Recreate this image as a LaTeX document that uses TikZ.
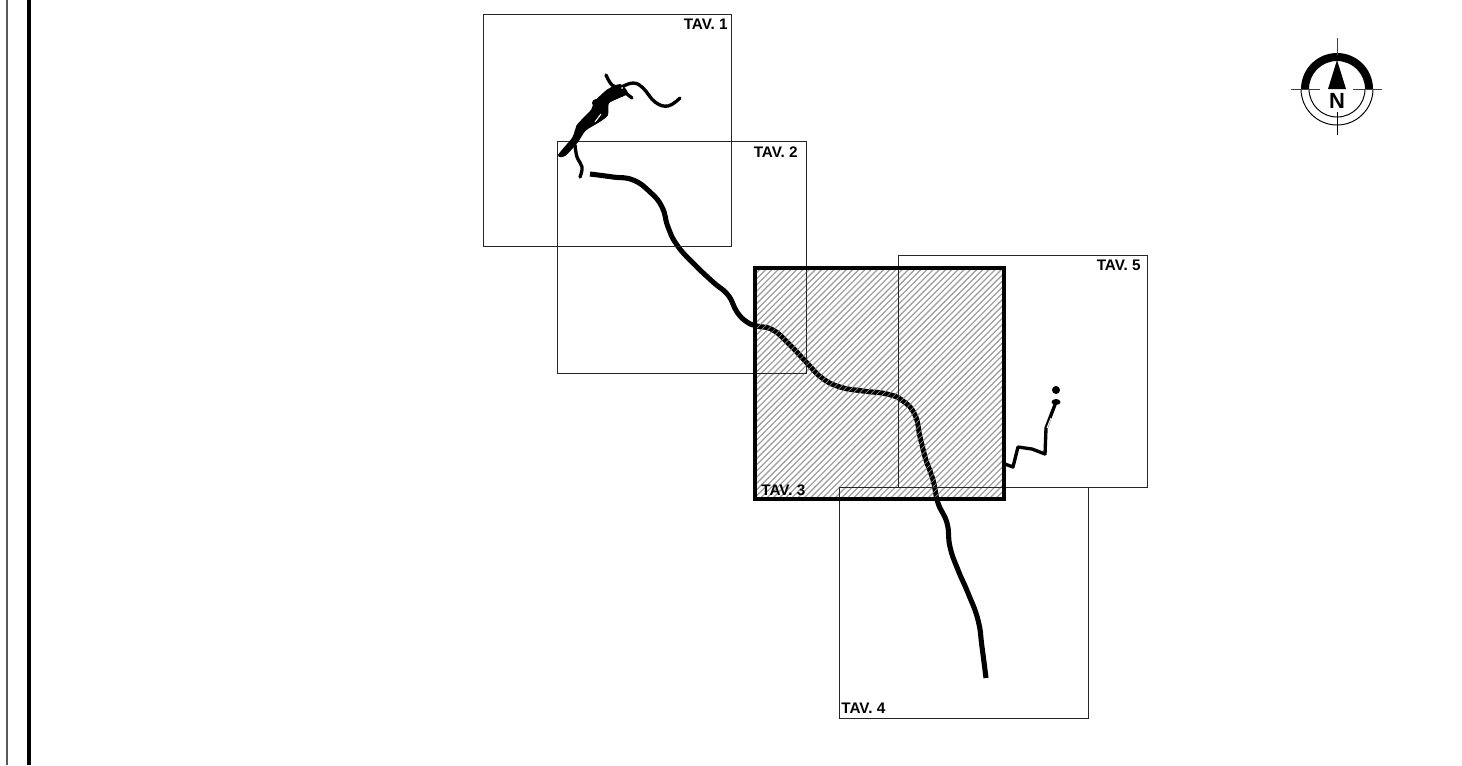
\documentclass[tikz,border=0pt]{standalone}
\usepackage{fontspec}
\setmainfont{Liberation Sans}
\tikzset{
    sheet/.style={draw=black!85,line width=0.4pt},
    sheetlabel/.style={inner sep=0pt,font=\fontsize{8.7}{10}\selectfont\bfseries},
    river/.style={line width=2.9pt,line join=round},
    creek/.style={line width=1.9pt,line cap=round,line join=round},
    hatchline/.style={line width=0.65pt,black!38}
}
\begin{document}
\begin{tikzpicture}[x=0.02cm,y=-0.02cm]
        \useasboundingbox (0,0) rectangle (1462,765);
        % frame on the left
        \draw[line width=1pt,black!65] (7,0) -- (7,765);
        \draw[line width=1.8pt] (29,0) -- (29,765);
        % hatching of the current sheet
        \begin{scope}
            \clip (755,268) rectangle (1004,499);
            \foreach \i in {0,6.2,...,490}
                \draw[hatchline] (755+\i-240,508) -- (755+\i,268);
        \end{scope}
        % main river
        \draw[river] plot[smooth,tension=0.8] coordinates {(590,174) (613,177) (633,180) (650,192) (662,207) (668,227) (677,245) (693,263) (713,282) (728,295) (737,312) (747,322) (757,326) (773,330) (790,345) (807,363) (822,378) (840,387) (863,391) (887,394) (903,401) (915,415) (920,437) (925,457) (933,480) (938,503) (947,523) (950,547) (958,570) (968,593) (978,620) (982,647) (986,678)};
        % stripes over the river
        \begin{scope}
            \clip (757,268) rectangle (1002,497);
            \foreach \i in {0,6.2,...,490}
                \draw[line width=0.3pt,black!38] (755+\i-240,508) -- (755+\i,268);
        \end{scope}
        % sheets
        \draw[sheet] (483,14) rectangle (731,246);
        \draw[sheet] (557,141) rectangle (806,373);
        \draw[sheet] (898,255) rectangle (1147,487);
        \draw[sheet] (839,487) rectangle (1088,718);
        \draw[line width=2.2pt] (755,268) rectangle (1004,499);
        \node[sheetlabel,anchor=north east] (tavA) at (728,19) {TAV. 1};
        \node[sheetlabel,anchor=north east] (tavB) at (798,146) {TAV. 2};
        \node[sheetlabel,anchor=south west] (tavC) at (761,496) {TAV. 3};
        \node[sheetlabel,anchor=south west] (tavD) at (841,714) {TAV. 4};
        \node[sheetlabel,anchor=north east] (tavE) at (1141,260) {TAV. 5};
        % upper branches
        \filldraw[line width=1pt,line join=round] plot[smooth cycle,tension=0.4] coordinates {(559,155) (573,138) (578,125) (592,110) (595,102) (608,90) (620,85) (627,93) (617,98) (608,103) (607,115) (598,122) (585,130) (577,142) (565,155)};
        \draw[creek] plot[smooth,tension=0.7] coordinates {(606,75) (612,85) (620,87) (633,83) (643,88) (655,102) (668,106) (680,98)};
        \draw[creek] plot[smooth,tension=0.7] coordinates {(575,145) (577,157) (582,167) (580,177)};
        \draw[creek] (622,90) -- (632,98);
        \fill (579,127) circle (3);
        \fill (596,103) circle (4);
        \draw[line width=0.6pt,white] (595,122) -- (601,114);
        \fill[white] (622,88) circle (1);
        % creek on the right
        \draw[creek] (1005,464) -- (1013,467) -- (1018,447) -- (1032,449) -- (1045,454);
        \draw[creek] (1045,454) -- (1046,428) -- (1056,402);
        \draw[line width=0.6pt,white] (1047,428) -- (1051,418);
        \fill (1056,402) ellipse (4.5 and 3);
        \fill (1056,390) circle (4);
        % north arrow
        \fill (1301,89) arc (180:360:36) -- (1365,89) arc (360:180:28) -- cycle;
        \draw[line width=0.55pt] (1301,89) arc (180:0:36);
        \draw[line width=0.55pt] (1309,89) arc (180:0:28);
        \draw[line width=0.55pt,black!75] (1291,89) -- (1320,89);
        \draw[line width=0.55pt,black!75] (1353,89) -- (1382,89);
        \draw[line width=0.55pt,black!75] (1337,38) -- (1337,55);
        \draw[line width=0.55pt] (1337,112) -- (1337,135);
        \fill (1337,60) -- (1346,89) -- (1328,89) -- cycle;
        \node[inner sep=0pt,font=\fontsize{12.5}{14}\selectfont\bfseries] (north) at (1337,101) {N};
    \end{tikzpicture}
\end{document}
